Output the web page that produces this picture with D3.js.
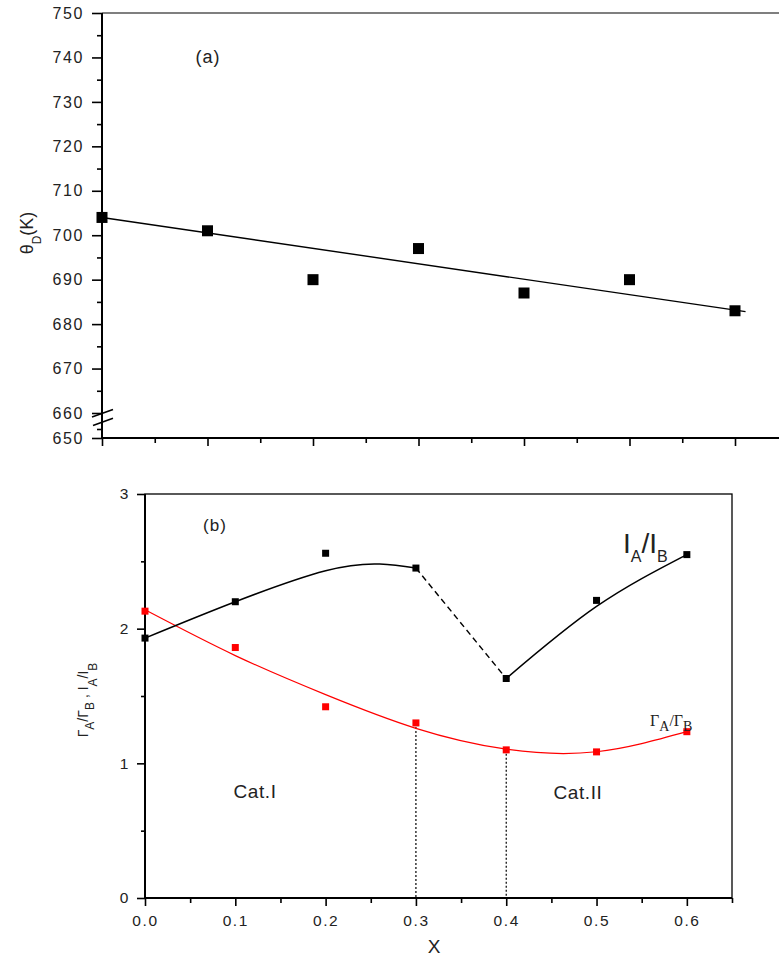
<!DOCTYPE html>
<html lang="en">
<head>
   <meta charset="UTF-8">
   <title>Debye temperature and ratios</title>
   <style>
      body { margin: 0; background: #fff; }
      text {
         font-family: "Liberation Sans", Arial, sans-serif;
         fill: #222;
      }
      .tick text { letter-spacing: 1.6px; }
      .serif { font-family: "Liberation Serif", "Times New Roman", serif; }
   </style>
   <script src="https://cdn.jsdelivr.net/npm/d3@7"></script>
</head>
<body>
   <div class="d3"></div>
   <script>
      // panel (a): Debye temperature
      const thetaX = [0, 0.1, 0.2, 0.3, 0.4, 0.5, 0.6]
      const thetaD = [704, 701, 690, 697, 687, 690, 683]
      const thetaFitX = [0, 0.61]
      const thetaFit = [704, 682.8]
      const thetaTicks = [660, 670, 680, 690, 700, 710, 720, 730, 740, 750]

      // panel (b): ratios
      const compX = [0, 0.1, 0.2, 0.3, 0.4, 0.5, 0.6]
      const intensityRatio = [1.93, 2.2, 2.56, 2.45, 1.63, 2.21, 2.55]
      const widthRatio = [2.13, 1.86, 1.42, 1.30, 1.10, 1.085, 1.235]
      // fitted curves
      const fitAX = [0, 0.1, 0.2, 0.26, 0.3]
      const fitA = [1.93, 2.2, 2.43, 2.48, 2.45]
      const fitBX = [0.4, 0.5, 0.6]
      const fitB = [1.63, 2.165, 2.55]
      const widthFitX = [0, 0.1, 0.2, 0.3, 0.4, 0.5, 0.6]
      const widthFit = [2.14, 1.80, 1.51, 1.26, 1.105, 1.086, 1.235]
      const dropX = [0.3, 0.4]
      const xTicks = [0, 0.1, 0.2, 0.3, 0.4, 0.5, 0.6]

      const svg = d3.select('.d3').append('svg')
         .attr('width', 779)
         .attr('height', 961)

      // ---------- panel (a) ----------
      const xA = d3.scaleLinear().domain([0, 0.6]).range([102, 735])
      const yA = d3.scaleLinear().domain([660, 750]).range([413, 13])
      const yALow = d3.scaleLinear().domain([650, 660]).range([438, 420])

      const gA = svg.append('g')

      // top frame line
      gA.append('line')
         .attr('x1', 102).attr('x2', 779)
         .attr('y1', yA(750)).attr('y2', yA(750))
         .attr('stroke', '#000').attr('stroke-width', 1.2)

      // left axis line
      gA.append('line')
         .attr('x1', 102).attr('x2', 102)
         .attr('y1', yA(750)).attr('y2', yALow(650))
         .attr('stroke', '#000').attr('stroke-width', 2)

      const yAxisA = gA.append('g')
         .attr('transform', 'translate(102,0)')
         .call(d3.axisLeft(yA).tickValues(thetaTicks).tickSize(10).tickPadding(8).tickFormat(d3.format('d')))
      yAxisA.append('g')
         .call(d3.axisLeft(yA).tickValues(d3.range(665, 750, 10)).tickSize(5).tickFormat(''))
      const lowAxis = gA.append('g')
         .attr('transform', 'translate(102,0)')
      lowAxis.append('g')
         .call(d3.axisLeft(yALow).tickValues([650]).tickSize(10).tickPadding(8).tickFormat(d3.format('d')))
      lowAxis.append('g')
         .call(d3.axisLeft(yALow).tickValues([655]).tickSize(5).tickFormat(''))
      gA.selectAll('.domain').remove()

      // axis break marks
      gA.append('line').attr('x1', 92).attr('y1', 417).attr('x2', 113).attr('y2', 409.5)
         .attr('stroke', '#000').attr('stroke-width', 1.6)
      gA.append('line').attr('x1', 93).attr('y1', 425.5).attr('x2', 113).attr('y2', 418.3)
         .attr('stroke', '#000').attr('stroke-width', 1.6)

      // bottom axis (no labels)
      const xAxisA = gA.append('g').attr('transform', `translate(0,${yALow(650)})`)
      xAxisA.append('line').attr('x1', 102).attr('x2', 779)
         .attr('stroke', '#000').attr('stroke-width', 2)
      xAxisA.append('g')
         .call(d3.axisBottom(xA).tickValues(xTicks).tickSize(8).tickFormat(''))
      xAxisA.append('g')
         .call(d3.axisBottom(xA).tickValues(d3.range(0.05, 0.65, 0.1)).tickSize(5).tickFormat(''))
      xAxisA.selectAll('.domain').remove()

      gA.selectAll('.tick line').attr('stroke', '#000').attr('stroke-width', 1.6)
      gA.selectAll('.tick text').attr('font-size', 16).attr('fill', '#222')

      // fit line
      gA.append('line')
         .attr('x1', xA(thetaFitX[0])).attr('y1', yA(thetaFit[0]))
         .attr('x2', xA(thetaFitX[1])).attr('y2', yA(thetaFit[1]))
         .attr('stroke', '#000').attr('stroke-width', 1.4)

      // points
      gA.selectAll('rect.pt')
         .data(thetaX.map((x, i) => [x, thetaD[i]]))
         .enter()
         .append('rect')
         .attr('class', 'pt')
         .attr('x', d => xA(d[0]) - 5.5)
         .attr('y', d => yA(d[1]) - 5.5)
         .attr('width', 11)
         .attr('height', 11)
         .attr('fill', '#000')

      gA.append('text')
         .attr('x', 208).attr('y', 63)
         .attr('text-anchor', 'middle')
         .attr('font-size', 18)
         .attr('letter-spacing', 1)
         .text('(a)')

      const yLabelA = gA.append('text')
         .attr('transform', 'translate(33,233) rotate(-90)')
         .attr('text-anchor', 'middle')
         .attr('font-size', 18)
      yLabelA.append('tspan').text('θ')
      yLabelA.append('tspan').attr('font-size', 12).attr('dy', 8).text('D')
      yLabelA.append('tspan').attr('dy', -8).text('(K)')

      // ---------- panel (b) ----------
      const xB = d3.scaleLinear().domain([0, 0.65]).range([145, 732])
      const yB = d3.scaleLinear().domain([0, 3]).range([898, 494])

      const gB = svg.append('g')

      // frame
      gB.append('rect')
         .attr('x', xB(0)).attr('y', yB(3))
         .attr('width', xB(0.65) - xB(0)).attr('height', yB(0) - yB(3))
         .attr('fill', 'none').attr('stroke', '#000').attr('stroke-width', 1.3)

      const yAxisB = gB.append('g').attr('transform', `translate(${xB(0)},0)`)
      yAxisB.append('g')
         .call(d3.axisLeft(yB).tickValues([0, 1, 2, 3]).tickSize(8).tickPadding(7).tickFormat(d3.format('d')))
      yAxisB.append('g')
         .call(d3.axisLeft(yB).tickValues([0.5, 1.5, 2.5]).tickSize(4).tickFormat(''))
      yAxisB.append('line').attr('y1', yB(0)).attr('y2', yB(3))
         .attr('stroke', '#000').attr('stroke-width', 2)

      const xAxisB = gB.append('g').attr('transform', `translate(0,${yB(0)})`)
      xAxisB.append('g')
         .call(d3.axisBottom(xB).tickValues(xTicks).tickSize(8).tickPadding(9).tickFormat(d3.format('.1f')))
      xAxisB.append('g')
         .call(d3.axisBottom(xB).tickValues([0.05, 0.15, 0.25, 0.35, 0.45, 0.55, 0.65]).tickSize(5).tickFormat(''))
      xAxisB.append('line').attr('x1', xB(0)).attr('x2', xB(0.65))
         .attr('stroke', '#000').attr('stroke-width', 2)
      gB.selectAll('.domain').remove()
      gB.selectAll('.tick line').attr('stroke', '#000').attr('stroke-width', 1.6)
      gB.selectAll('.tick text').attr('font-size', 15.5).attr('fill', '#222')

      const line = (xs, ys, curve) => d3.line()
         .x(d => xB(d[0])).y(d => yB(d[1]))
         .curve(curve)(xs.map((x, i) => [x, ys[i]]))

      // dotted drops
      gB.selectAll('line.drop')
         .data(dropX)
         .enter()
         .append('line')
         .attr('class', 'drop')
         .attr('x1', d => xB(d)).attr('x2', d => xB(d))
         .attr('y1', d => yB(widthRatio[compX.indexOf(d)]))
         .attr('y2', yB(0))
         .attr('stroke', '#000').attr('stroke-width', 1.2)
         .attr('stroke-dasharray', '2,2')

      // red fit
      gB.append('path')
         .attr('d', line(widthFitX, widthFit, d3.curveNatural))
         .attr('fill', 'none').attr('stroke', '#ff0000').attr('stroke-width', 1.2)

      // black fits
      gB.append('path')
         .attr('d', line(fitAX, fitA, d3.curveNatural))
         .attr('fill', 'none').attr('stroke', '#000').attr('stroke-width', 1.5)
      gB.append('path')
         .attr('d', line(fitBX, fitB, d3.curveNatural))
         .attr('fill', 'none').attr('stroke', '#000').attr('stroke-width', 1.5)
      gB.append('path')
         .attr('d', line(compX.slice(3, 5), intensityRatio.slice(3, 5), d3.curveLinear))
         .attr('fill', 'none').attr('stroke', '#000').attr('stroke-width', 1.4)
         .attr('stroke-dasharray', '6,4')

      // points
      gB.selectAll('rect.ir')
         .data(compX.map((x, i) => [x, intensityRatio[i]]))
         .enter()
         .append('rect')
         .attr('class', 'ir')
         .attr('x', d => xB(d[0]) - 3.5).attr('y', d => yB(d[1]) - 3.5)
         .attr('width', 7).attr('height', 7)
         .attr('fill', '#000')
      gB.selectAll('rect.wr')
         .data(compX.map((x, i) => [x, widthRatio[i]]))
         .enter()
         .append('rect')
         .attr('class', 'wr')
         .attr('x', d => xB(d[0]) - 3.5).attr('y', d => yB(d[1]) - 3.5)
         .attr('width', 7).attr('height', 7)
         .attr('fill', '#ff0000')

      // labels
      gB.append('text').attr('x', 215).attr('y', 531)
         .attr('text-anchor', 'middle').attr('font-size', 17).attr('letter-spacing', 1).text('(b)')
      gB.append('text').attr('x', 255).attr('y', 798)
         .attr('text-anchor', 'middle').attr('font-size', 19).attr('letter-spacing', 0.6).text('Cat.I')
      gB.append('text').attr('x', 578).attr('y', 799)
         .attr('text-anchor', 'middle').attr('font-size', 19).attr('letter-spacing', 0.6).text('Cat.II')

      const iLabel = gB.append('text').attr('x', 623).attr('y', 553).attr('font-size', 28)
      iLabel.append('tspan').text('I')
      iLabel.append('tspan').attr('font-size', 16).attr('dy', 9).text('A')
      iLabel.append('tspan').attr('dy', -9).text('/I')
      iLabel.append('tspan').attr('font-size', 16).attr('dy', 9).text('B')

      const gLabel = gB.append('text').attr('class', 'serif')
         .attr('x', 650).attr('y', 726).attr('font-size', 16)
      gLabel.append('tspan').text('Γ')
      gLabel.append('tspan').attr('font-size', 14).attr('dy', 5).text('A')
      gLabel.append('tspan').attr('dy', -5).text('/Γ')
      gLabel.append('tspan').attr('font-size', 14).attr('dy', 5).text('B')

      const yLabelB = gB.append('text')
         .attr('transform', 'translate(88,700) rotate(-90)')
         .attr('text-anchor', 'middle')
         .attr('font-size', 14)
      yLabelB.append('tspan').text('Γ')
      yLabelB.append('tspan').attr('font-size', 12).attr('dy', 6).text('A')
      yLabelB.append('tspan').attr('dy', -6).text('/Γ')
      yLabelB.append('tspan').attr('font-size', 12).attr('dy', 6).text('B')
      yLabelB.append('tspan').attr('dy', -6).text(' , I')
      yLabelB.append('tspan').attr('font-size', 12).attr('dy', 9).text('A')
      yLabelB.append('tspan').attr('dy', -9).text('/I')
      yLabelB.append('tspan').attr('font-size', 12).attr('dy', 9).text('B')

      gB.append('text').attr('x', 434).attr('y', 953)
         .attr('text-anchor', 'middle').attr('font-size', 19).text('X')
   </script>
</body>
</html>
